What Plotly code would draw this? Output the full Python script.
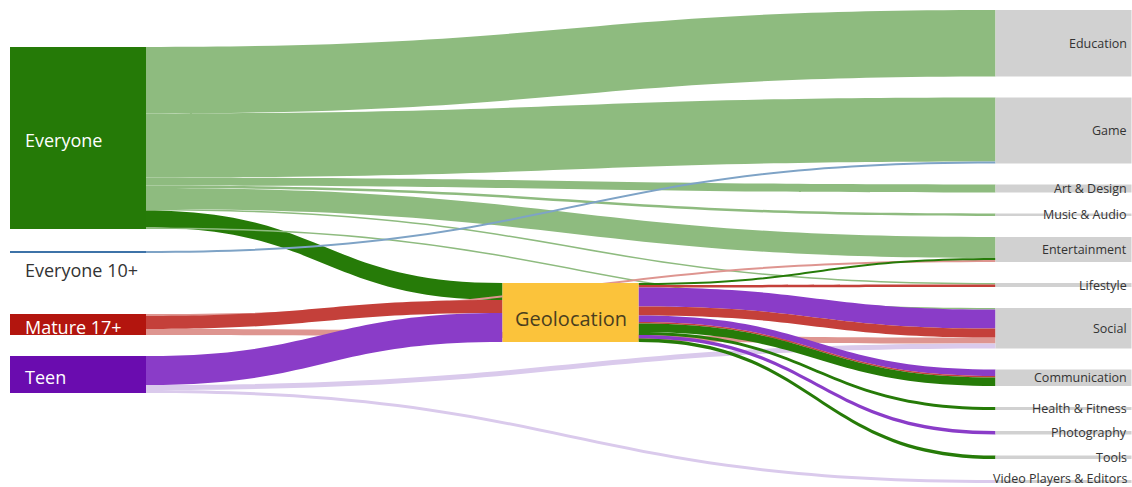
import plotly.graph_objects as go

# ---------------- data ----------------
ratings = ["Everyone", "Everyone 10+", "Mature 17+", "Teen"]
hub = "Geolocation"
categories = ["Education", "Game", "Art & Design", "Music & Audio", "Entertainment",
              "Lifestyle", "Social", "Communication", "Health & Fitness",
              "Photography", "Tools", "Video Players & Editors"]

# flows: source, target, rating the flow belongs to, value
flow_source = (["Everyone"] * 8 + ["Everyone 10+"] + ["Mature 17+"] * 3 + ["Teen"] * 3
               + ["Geolocation"] * 11)
flow_target = (["Education", "Game", "Art & Design", "Music & Audio", "Entertainment",
                "Lifestyle", "Geolocation", "Social"]
               + ["Game"]
               + ["Entertainment", "Geolocation", "Social"]
               + ["Geolocation", "Social", "Video Players & Editors"]
               + ["Entertainment", "Lifestyle", "Social", "Social",
                  "Communication", "Communication", "Communication",
                  "Health & Fitness", "Photography", "Tools"])
flow_rating = (["Everyone"] * 8 + ["Everyone 10+"] + ["Mature 17+"] * 3 + ["Teen"] * 3
               + ["Everyone", "Mature 17+", "Teen", "Mature 17+",
                  "Teen", "Mature 17+", "Everyone",
                  "Everyone", "Teen", "Everyone"])
flow_value = ([66.5, 64, 8, 2.5, 21, 1.5, 17, 1.5]
              + [2]
              + [2, 13, 6]
              + [29, 5, 3]
              + [2, 2.5, 19, 9, 6.5, 1.5, 8.5, 3, 3.5, 3.5])

# ---------------- styles / layout ----------------
W, H = 1132, 487
thickness = 136
ky = 1.0
node_color_map = {"Everyone": "#257A07", "Everyone 10+": "#3E73A8",
                  "Mature 17+": "#B3150E", "Teen": "#6A0CAF", "Geolocation": "#FBC33B"}
cat_color = "#D1D1D1"
strong = {"Everyone": "#267B08", "Everyone 10+": "#6F98C0",
          "Mature 17+": "#C4403A", "Teen": "#8A3CC8"}
light = {"Everyone": "#8EBB7F", "Everyone 10+": "#7EA3C6",
         "Mature 17+": "#DE9590", "Teen": "#DACAEC"}

# positions in window pixels
left_top = {"Everyone": 47, "Everyone 10+": 251, "Mature 17+": 314, "Teen": 356}
mid_top = {"Geolocation": 283}
right_start, right_gap = 10, 21
col_center_px = {"left": 78, "mid": 570.5, "right": 1063.5}

nodes = ratings + [hub] + categories
idx = {n: i for i, n in enumerate(nodes)}

inflow = {n: 0.0 for n in nodes}
outflow = {n: 0.0 for n in nodes}
for s, t, v in zip(flow_source, flow_target, flow_value):
    outflow[s] += v
    inflow[t] += v
node_val = {n: max(inflow[n], outflow[n]) for n in nodes}

total_right = sum(node_val[c] for c in categories)
pad = (H - ky * total_right) / (len(categories) - 1)

tops = {}
tops.update(left_top)
tops.update(mid_top)
y = right_start
for c in categories:
    tops[c] = y
    y += node_val[c] * ky + right_gap


def col_of(n):
    if n in ratings:
        return "left"
    if n == hub:
        return "mid"
    return "right"


def fx(px):
    return px / W


def fy(py):
    return py / H


node_x = [fx(col_center_px[col_of(n)]) for n in nodes]
node_y = [fy(tops[n] + node_val[n] * ky / 2) for n in nodes]
node_colors = [node_color_map.get(n, cat_color) for n in nodes]

link_colors = []
for s, t, r in zip(flow_source, flow_target, flow_rating):
    if s == hub or t == hub:
        link_colors.append(strong[r])
    else:
        link_colors.append(light[r])

fig = go.Figure(go.Sankey(
    arrangement="fixed",
    node=dict(
        label=["" for _ in nodes],
        customdata=nodes,
        hovertemplate="%{customdata}<extra></extra>",
        x=node_x, y=node_y,
        pad=pad, thickness=thickness,
        color=node_colors,
        line=dict(width=0),
    ),
    link=dict(
        source=[idx[s] for s in flow_source],
        target=[idx[t] for t in flow_target],
        value=flow_value,
        color=link_colors,
    ),
))

annotations = []
font_family = "Open Sans, Noto Sans, sans-serif"
for n in nodes:
    h = node_val[n] * ky
    cy = tops[n] + h / 2
    col = col_of(n)
    if col == "left":
        if h < 10:
            cy = tops[n] + h + 17
            color = "#333333"
        else:
            cy += 2
            color = "#FFFFFF"
        annotations.append(dict(x=fx(23), y=1 - fy(cy), xref="paper", yref="paper",
                                text=n, showarrow=False, xanchor="left", yanchor="middle",
                                font=dict(family=font_family, size=18, color=color)))
    elif col == "mid":
        annotations.append(dict(x=fx(col_center_px["mid"]), y=1 - fy(cy + 6),
                                xref="paper", yref="paper",
                                text=n, showarrow=False, xanchor="center", yanchor="middle",
                                font=dict(family=font_family, size=20, color="#4A3E1E")))
    else:
        cy = min(cy, H - 9)
        annotations.append(dict(x=fx(1129), y=1 - fy(cy), xref="paper", yref="paper",
                                text=n, showarrow=False, xanchor="right", yanchor="middle",
                                font=dict(family=font_family, size=12.5, color="#333333")))

fig.update_layout(
    width=W, height=H,
    margin=dict(l=0, r=0, t=0, b=0),
    paper_bgcolor="white",
    plot_bgcolor="white",
    annotations=annotations,
    font=dict(family=font_family),
)

# remove the default page margin so the figure fills the window exactly
fig.write_html("out.html",
               config={"displayModeBar": False},
               post_script="document.body.style.margin='0';document.body.style.overflow='hidden';")
